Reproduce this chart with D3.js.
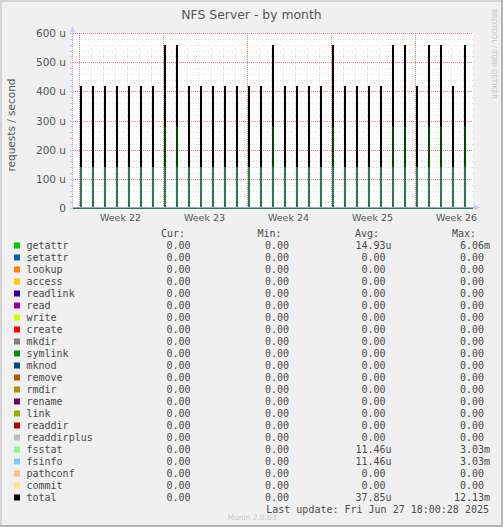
<!DOCTYPE html>
<html><head><meta charset="utf-8">
<script src="https://cdn.jsdelivr.net/npm/d3@7/dist/d3.min.js"></script>
<style>body{margin:0;background:#f0f0f0}svg{display:block}</style>
</head><body><svg id="c" width="503" height="527"></svg>
<script>
// ---- data ----
const categories = ["getattr","setattr","lookup","access","readlink","read","write","create","mkdir","symlink","mknod","remove","rmdir","rename","link","readdir","readdirplus","fsstat","fsinfo","pathconf","commit","total"];
const colors = ["#00CC00","#0066B3","#FF8000","#FFCC00","#330099","#990099","#CCFF00","#FF0000","#808080","#008F00","#00487D","#B35A00","#B38F00","#6B006B","#8FB300","#B30000","#BEBEBE","#80FF80","#80C9FF","#FFC080","#FFE680","#000000"];
const curValues = ["0.00","0.00","0.00","0.00","0.00","0.00","0.00","0.00","0.00","0.00","0.00","0.00","0.00","0.00","0.00","0.00","0.00","0.00","0.00","0.00","0.00","0.00"];
const minValues = ["0.00","0.00","0.00","0.00","0.00","0.00","0.00","0.00","0.00","0.00","0.00","0.00","0.00","0.00","0.00","0.00","0.00","0.00","0.00","0.00","0.00","0.00"];
const avgValues = ["14.93u","0.00","0.00","0.00","0.00","0.00","0.00","0.00","0.00","0.00","0.00","0.00","0.00","0.00","0.00","0.00","0.00","11.46u","11.46u","0.00","0.00","37.85u"];
const maxValues = ["6.06m","0.00","0.00","0.00","0.00","0.00","0.00","0.00","0.00","0.00","0.00","0.00","0.00","0.00","0.00","0.00","0.00","3.03m","3.03m","0.00","0.00","12.13m"];

const spikeDays = ["2025-05-26","2025-05-27","2025-05-28","2025-05-29","2025-05-30","2025-05-31","2025-06-01","2025-06-02","2025-06-03","2025-06-04","2025-06-05","2025-06-06","2025-06-07","2025-06-08","2025-06-09","2025-06-10","2025-06-11","2025-06-12","2025-06-13","2025-06-14","2025-06-15","2025-06-16","2025-06-17","2025-06-18","2025-06-19","2025-06-20","2025-06-21","2025-06-22","2025-06-23","2025-06-24","2025-06-25","2025-06-26","2025-06-27"];
// values in micro-requests/second
const totalValues   = [418,418,418,418,418,418,418,557,557,418,418,418,418,418,418,418,557,418,418,418,418,557,418,418,418,418,557,557,418,557,557,418,557];
const getattrValues = [140,140,140,140,140,140,140,279,279,140,140,140,140,140,140,140,279,140,140,140,140,279,140,140,140,140,279,279,140,279,279,140,279];
const fsstatValues  = [139,139,139,139,139,139,139,139,139,139,139,139,139,139,139,139,139,139,139,139,139,139,139,139,139,139,139,139,139,139,139,139,139];
const fsinfoValues  = [139,139,139,139,139,139,139,139,139,139,139,139,139,139,139,139,139,139,139,139,139,139,139,139,139,139,139,139,139,139,139,139,139];

const yTicks = [0,100,200,300,400,500,600];
const yTickLabels = ["0","100 u","200 u","300 u","400 u","500 u","600 u"];
const weekStarts = ["2025-05-26","2025-06-02","2025-06-09","2025-06-16","2025-06-23"];
const weekLabels = ["Week 22","Week 23","Week 24","Week 25","Week 26"];

// ---- setup ----
const svg = d3.select("#c");
const W = 503, H = 527;
const pd = s => { const [yy,m,d] = s.split("-").map(Number); return new Date(yy, m-1, d); };
const tStart = new Date(2025,4,25,13,0), tEnd = new Date(2025,5,27,21,0);
const x = d3.scaleTime().domain([tStart, tEnd]).range([73, 473]);
const y = d3.scaleLinear().domain([0, 600]).range([208, 33]);
const px = v => Math.round(v) + 0.5;

svg.append("rect").attr("width",W).attr("height",H).attr("fill","#f0f0f0");
// border
svg.append("rect").attr("x",0).attr("y",0).attr("width",W).attr("height",2).attr("fill","#d4d4d4");
svg.append("rect").attr("x",0).attr("y",0).attr("width",2).attr("height",H).attr("fill","#d4d4d4");
svg.append("rect").attr("x",W-2).attr("y",0).attr("width",2).attr("height",H).attr("fill","#b4b4b4");
svg.append("rect").attr("x",0).attr("y",H-2).attr("width",W).attr("height",2).attr("fill","#b4b4b4");

// canvas
svg.append("rect").attr("x",73).attr("y",33).attr("width",400).attr("height",175).attr("fill","#ffffff");

const grid = svg.append("g");
// minor horizontal
const minorY = d3.range(0, 601, 20).filter(v => v % 100 !== 0);
grid.selectAll(".mh").data(minorY).join("line")
  .attr("x1",73).attr("x2",473).attr("y1",d=>px(y(d))).attr("y2",d=>px(y(d)))
  .attr("stroke","#dadada").attr("stroke-dasharray","1,2");
// minor vertical (days)
const dayLines = d3.timeDay.range(d3.timeDay.ceil(tStart), tEnd).filter(d => d.getDay() !== 1);
grid.selectAll(".mv").data(dayLines).join("line")
  .attr("x1",d=>px(x(d))).attr("x2",d=>px(x(d))).attr("y1",33).attr("y2",208)
  .attr("stroke","#dadada").attr("stroke-dasharray","1,2");
// major horizontal
grid.selectAll(".Mh").data(yTicks.slice(1)).join("line")
  .attr("x1",73).attr("x2",473).attr("y1",d=>px(y(d))).attr("y2",d=>px(y(d)))
  .attr("stroke","#ee8080").attr("stroke-dasharray","1,1");
// major vertical (weeks)
grid.selectAll(".Mv").data(weekStarts).join("line")
  .attr("x1",d=>px(x(pd(d)))).attr("x2",d=>px(x(pd(d)))).attr("y1",33).attr("y2",208)
  .attr("stroke","#ee8080").attr("stroke-dasharray","1,1");
// ticks
grid.selectAll(".tk").data(d3.range(0,601,20)).join("line")
  .attr("x1",70).attr("x2",73).attr("y1",d=>px(y(d))).attr("y2",d=>px(y(d))).attr("stroke","#c8c8c8");

// ---- series ----
const spikeT = dayStr => { const d = pd(dayStr); d.setHours(4); return d; };
function seriesPoints(vals){
  const pts = [[tStart,0]];
  spikeDays.forEach((s,i)=>{ const t = spikeT(s); pts.push([t, vals[i]]); pts.push([d3.timeHour.offset(t,2), 0]); });
  pts.push([tEnd,0]);
  return pts;
}
const line = d3.line().x(d=>x(d[0])).y(d=>y(d[1])).curve(d3.curveStepAfter);
const sg = svg.append("g").attr("shape-rendering","crispEdges");
sg.append("path").attr("d", line(seriesPoints(totalValues))).attr("fill","none").attr("stroke","#000").attr("stroke-width",1);
[[getattrValues,colors[0],0.35],[fsstatValues,colors[17],0.05],[fsinfoValues,colors[18],0.32]].forEach(([v,c,o])=>{
  sg.append("path").attr("d", line(seriesPoints(v))).attr("fill","none").attr("stroke",c).attr("stroke-width",1).attr("stroke-opacity",o);
});

// ---- axes ----
const ax = svg.append("g");
ax.append("line").attr("x1",73).attr("x2",476).attr("y1",207.5).attr("y2",207.5).attr("stroke","#a4a4c8");
ax.append("line").attr("x1",72.5).attr("x2",72.5).attr("y1",208).attr("y2",30).attr("stroke","#c4ccf6");
svg.append("path").attr("d","M70,32 L72.5,26 L75,32 Z").attr("fill","#c4ccf6");
svg.append("path").attr("d","M474,205 L480,207.5 L474,210 Z").attr("fill","#c4ccf6");

// y tick labels
svg.selectAll(".yl").data(yTicks).join("text")
  .attr("x",66).attr("y",d=>y(d)).attr("text-anchor","end").attr("dominant-baseline","central")
  .attr("font-family","DejaVu Sans").attr("font-size","10.5px").attr("fill","#555")
  .text((d,i)=>yTickLabels[i]);
// week labels
svg.selectAll(".wl").data(weekStarts).join("text")
  .attr("x",d=>x(d3.timeHour.offset(pd(d),84))).attr("y",217).attr("text-anchor","middle").attr("dominant-baseline","central")
  .attr("font-family","DejaVu Sans").attr("font-size","9.5px").attr("fill","#555")
  .text((d,i)=>weekLabels[i]);

// title
svg.append("text").attr("x",251.5).attr("y",14).attr("text-anchor","middle").attr("dominant-baseline","central")
  .attr("font-family","DejaVu Sans").attr("font-size","12.4px").attr("fill","#555").text("NFS Server - by month");
// y label
svg.append("text").attr("transform","translate(11,125) rotate(-90)").attr("text-anchor","middle").attr("dominant-baseline","central")
  .attr("font-family","DejaVu Sans").attr("font-size","10.5px").attr("fill","#555").text("requests / second");
// watermark
svg.append("text").attr("transform","translate(494,54) rotate(90)").attr("text-anchor","middle").attr("dominant-baseline","central")
  .attr("font-family","DejaVu Sans").attr("font-size","7px").attr("fill","#c4c4c4").text("RRDTOOL / TOBI OETIKER");

// ---- legend ----
const mono = "DejaVu Sans Mono", fs = "10px", tc = "#4a4a4a";
const lg = svg.append("g");
const heads = [["Cur:",161],["Min:",257.5],["Avg:",355],["Max:",452]];
heads.forEach(([t,xx])=> lg.append("text").attr("x",xx).attr("y",233).attr("dominant-baseline","central")
  .attr("font-family",mono).attr("font-size",fs).attr("fill",tc).text(t));
const cw = 6.02;
const colEnds = [190.5, 289, 385.5, 484];
const cols = [curValues, minValues, avgValues, maxValues];
categories.forEach((name,i)=>{
  const cy = 245 + 12*i;
  lg.append("rect").attr("x",14).attr("y",cy-2.5).attr("width",6).attr("height",6).attr("fill",colors[i]);
  lg.append("text").attr("x",26.5).attr("y",cy).attr("dominant-baseline","central")
    .attr("font-family",mono).attr("font-size",fs).attr("fill",tc).text(name);
  cols.forEach((arr,j)=>{
    const s = arr[i];
    const hasUnit = /[a-zA-Z]$/.test(s);
    lg.append("text").attr("x", colEnds[j] + (hasUnit ? cw : 0)).attr("y",cy).attr("text-anchor","end").attr("dominant-baseline","central")
      .attr("font-family",mono).attr("font-size",fs).attr("fill",tc).text(s);
  });
});
lg.append("text").attr("x",489).attr("y",509).attr("text-anchor","end").attr("dominant-baseline","central")
  .attr("font-family",mono).attr("font-size",fs).attr("fill",tc).text("Last update: Fri Jun 27 18:00:28 2025");
svg.append("text").attr("x",252).attr("y",517.5).attr("text-anchor","middle").attr("dominant-baseline","central")
  .attr("font-family","DejaVu Sans").attr("font-size","7.5px").attr("fill","#c8c8c8").text("Munin 2.0.63");
</script></body></html>
